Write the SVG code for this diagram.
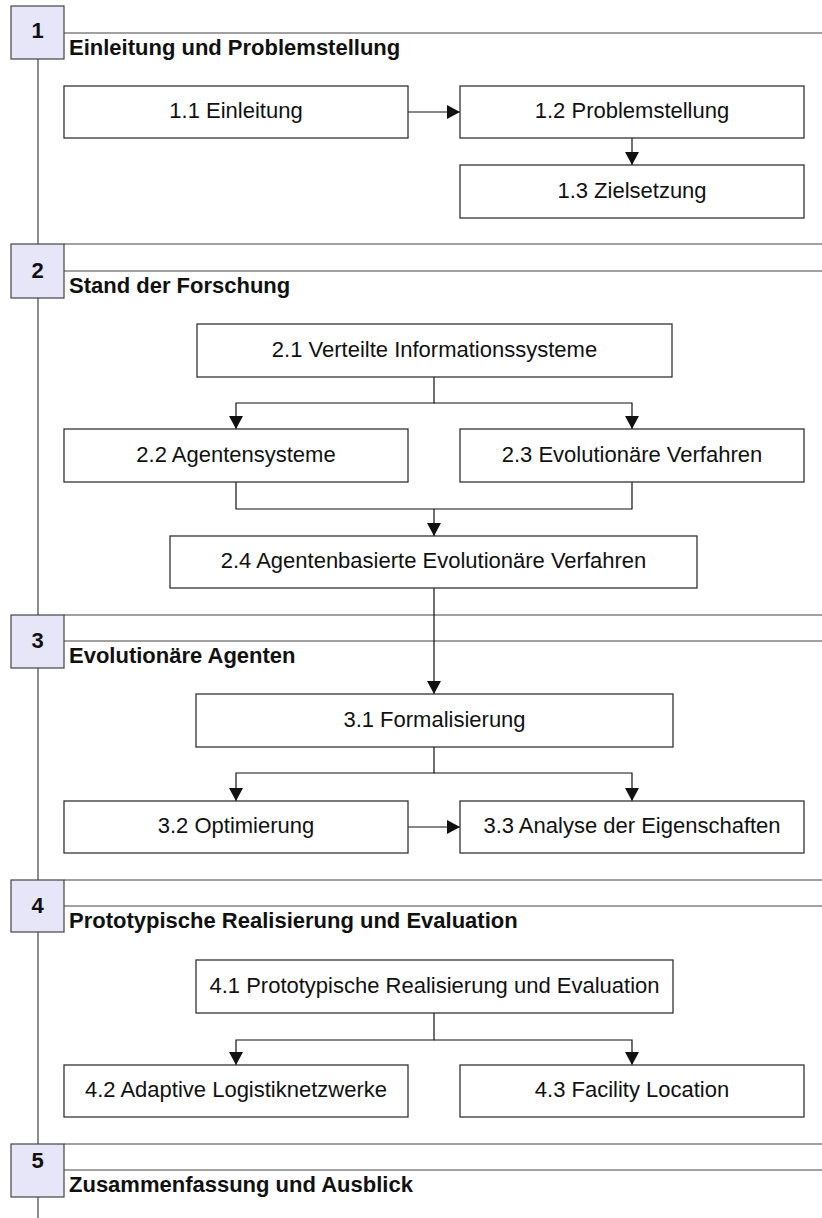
<svg xmlns="http://www.w3.org/2000/svg" width="822" height="1218" viewBox="0 0 822 1218">
  <style>
    .bg { fill: #ffffff; }
    .timeline { stroke: #444; stroke-width: 1.2; fill: none; }
    .rule { stroke: #444; stroke-width: 1.2; fill: none; }
    .numbox { fill: #e6e6f8; stroke: #444; stroke-width: 1.2; }
    .num { font-family: "Liberation Sans", Arial, sans-serif; font-weight: bold; font-size: 22px; fill: #111; text-anchor: middle; }
    .title { font-family: "Liberation Sans", Arial, sans-serif; font-weight: bold; font-size: 22px; fill: #111; }
    .node rect { fill: #ffffff; stroke: #333; stroke-width: 1.3; }
    .node text { font-family: "Liberation Sans", Arial, sans-serif; font-size: 22px; fill: #111; text-anchor: middle; }
    .conn path { stroke: #111; stroke-width: 1.2; fill: none; }
    .conn .arrow { marker-end: url(#head); }
  </style>
  <defs>
    <marker id="head" markerUnits="userSpaceOnUse" markerWidth="14" markerHeight="15" refX="13" refY="7" orient="auto">
      <path d="M0,0 L13,7 L0,14 Z" fill="#111"/>
    </marker>
  </defs>

  <rect class="bg" x="0" y="0" width="822" height="1218"/>

  <!-- vertical timeline behind the chapter number boxes -->
  <line class="timeline" x1="38" y1="6" x2="38" y2="1218"/>

  <!-- chapter 1 -->
  <g id="chapter1">
    <line class="rule" x1="64" y1="33" x2="822" y2="33"/>
    <rect class="numbox" x="11" y="6" width="53" height="53"/>
    <text class="num" x="37.5" y="38">1</text>
    <text class="title" x="69" y="55">Einleitung und Problemstellung</text>
  </g>

  <!-- chapter 2 -->
  <g id="chapter2">
    <line class="rule" x1="64" y1="244" x2="822" y2="244"/>
    <line class="rule" x1="64" y1="271" x2="822" y2="271"/>
    <rect class="numbox" x="11" y="244" width="53" height="54"/>
    <text class="num" x="37.5" y="277.5">2</text>
    <text class="title" x="69" y="293">Stand der Forschung</text>
  </g>

  <!-- chapter 3 -->
  <g id="chapter3">
    <line class="rule" x1="64" y1="615" x2="822" y2="615"/>
    <line class="rule" x1="64" y1="641" x2="822" y2="641"/>
    <rect class="numbox" x="11" y="615" width="53" height="53"/>
    <text class="num" x="37.5" y="647.5">3</text>
    <text class="title" x="69" y="663">Evolutionäre Agenten</text>
  </g>

  <!-- chapter 4 -->
  <g id="chapter4">
    <line class="rule" x1="64" y1="880" x2="822" y2="880"/>
    <line class="rule" x1="64" y1="906" x2="822" y2="906"/>
    <rect class="numbox" x="11" y="880" width="53" height="52"/>
    <text class="num" x="37.5" y="912.5">4</text>
    <text class="title" x="69" y="928">Prototypische Realisierung und Evaluation</text>
  </g>

  <!-- chapter 5 -->
  <g id="chapter5">
    <line class="rule" x1="64" y1="1144" x2="822" y2="1144"/>
    <line class="rule" x1="64" y1="1170" x2="822" y2="1170"/>
    <rect class="numbox" x="11" y="1144" width="53" height="53"/>
    <text class="num" x="37.5" y="1168">5</text>
    <text class="title" x="69" y="1192">Zusammenfassung und Ausblick</text>
  </g>

  <!-- connectors -->
  <g id="connectors" class="conn">
    <path class="arrow" d="M408,112 H460"/>
    <path class="arrow" d="M632,138 V165"/>
    <path class="arrow" d="M434,377 V403 H236 V429"/>
    <path class="arrow" d="M434,403 H632 V429"/>
    <path d="M236,482 V509 H632 V482"/>
    <path class="arrow" d="M434,509 V536"/>
    <path class="arrow" d="M434,588 V694"/>
    <path class="arrow" d="M434,747 V773 H236 V801"/>
    <path class="arrow" d="M434,773 H632 V801"/>
    <path class="arrow" d="M408,827 H460"/>
    <path class="arrow" d="M434,1013 V1040 H236 V1065"/>
    <path class="arrow" d="M434,1040 H632 V1065"/>
  </g>

  <!-- section nodes -->
  <g id="n11" class="node">
    <rect x="64" y="86" width="344" height="52"/>
    <text x="236" y="118">1.1 Einleitung</text>
  </g>
  <g id="n12" class="node">
    <rect x="460" y="86" width="344" height="52"/>
    <text x="632" y="118">1.2 Problemstellung</text>
  </g>
  <g id="n13" class="node">
    <rect x="460" y="165" width="344" height="53"/>
    <text x="632" y="197.5">1.3 Zielsetzung</text>
  </g>

  <g id="n21" class="node">
    <rect x="197" y="324" width="475" height="53"/>
    <text x="434.5" y="356.5">2.1 Verteilte Informationssysteme</text>
  </g>
  <g id="n22" class="node">
    <rect x="64" y="429" width="344" height="53"/>
    <text x="236" y="461.5">2.2 Agentensysteme</text>
  </g>
  <g id="n23" class="node">
    <rect x="460" y="429" width="344" height="53"/>
    <text x="632" y="461.5">2.3 Evolutionäre Verfahren</text>
  </g>
  <g id="n24" class="node">
    <rect x="170" y="536" width="527" height="52"/>
    <text x="433.5" y="568">2.4 Agentenbasierte Evolutionäre Verfahren</text>
  </g>

  <g id="n31" class="node">
    <rect x="196" y="694" width="477" height="53"/>
    <text x="434.5" y="726.5">3.1 Formalisierung</text>
  </g>
  <g id="n32" class="node">
    <rect x="64" y="801" width="344" height="52"/>
    <text x="236" y="833">3.2 Optimierung</text>
  </g>
  <g id="n33" class="node">
    <rect x="460" y="801" width="344" height="52"/>
    <text x="632" y="833">3.3 Analyse der Eigenschaften</text>
  </g>

  <g id="n41" class="node">
    <rect x="196" y="960" width="477" height="53"/>
    <text x="434.5" y="992.5">4.1 Prototypische Realisierung und Evaluation</text>
  </g>
  <g id="n42" class="node">
    <rect x="64" y="1065" width="344" height="52"/>
    <text x="236" y="1097">4.2 Adaptive Logistiknetzwerke</text>
  </g>
  <g id="n43" class="node">
    <rect x="460" y="1065" width="344" height="52"/>
    <text x="632" y="1097">4.3 Facility Location</text>
  </g>
</svg>
